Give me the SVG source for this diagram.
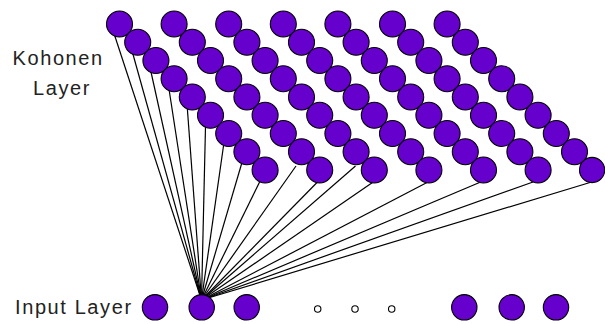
<svg xmlns="http://www.w3.org/2000/svg" width="605" height="324" viewBox="0 0 605 324">
<style>
.n{fill:#6600cc;stroke:#000;stroke-width:1.1}
.d{fill:#fff;stroke:#000;stroke-width:1.1}
.c line{stroke:#000;stroke-width:1.2}
.t{font-family:"Liberation Sans",Arial,sans-serif;font-size:20px;fill:#222;letter-spacing:1.6px}
</style>
<rect width="605" height="324" fill="#fff"/>
<g id="labels">
<text class="t" x="12.5" y="65">Kohonen</text>
<text class="t" x="33" y="94.5">Layer</text>
<text class="t" x="15" y="313.5">Input Layer</text>
</g>
<g id="connectors" class="c">
<line x1="114.5" y1="35" x2="201.5" y2="300"/>
<line x1="132.7" y1="53.25" x2="201.5" y2="300"/>
<line x1="150.9" y1="71.5" x2="201.5" y2="300"/>
<line x1="169.1" y1="89.75" x2="201.5" y2="300"/>
<line x1="187.3" y1="108" x2="201.5" y2="300"/>
<line x1="205.5" y1="126.25" x2="201.5" y2="300"/>
<line x1="223.7" y1="144.5" x2="201.5" y2="300"/>
<line x1="241.9" y1="162.75" x2="201.5" y2="300"/>
<line x1="260.1" y1="181" x2="201.5" y2="300"/>
<line x1="296" y1="166" x2="201.5" y2="300"/>
<line x1="317.5" y1="182" x2="201.5" y2="300"/>
<line x1="355.5" y1="166" x2="201.5" y2="300"/>
<line x1="372.5" y1="182.5" x2="201.5" y2="300"/>
<line x1="427" y1="182.5" x2="201.5" y2="300"/>
<line x1="479.5" y1="182.5" x2="201.5" y2="300"/>
<line x1="533" y1="182" x2="201.5" y2="300"/>
<line x1="590" y1="182.5" x2="201.5" y2="300"/>
</g>
<g id="kohonen">
<g id="k0">
<circle class="n" cx="119.5" cy="24" r="13"/><circle class="n" cx="137.7" cy="42.25" r="13"/><circle class="n" cx="155.9" cy="60.5" r="13"/><circle class="n" cx="174.1" cy="78.75" r="13"/><circle class="n" cx="192.3" cy="97" r="13"/><circle class="n" cx="210.5" cy="115.25" r="13"/><circle class="n" cx="228.7" cy="133.5" r="13"/><circle class="n" cx="246.9" cy="151.75" r="13"/><circle class="n" cx="265.1" cy="170" r="13"/>
</g>
<g id="k1">
<circle class="n" cx="174.1" cy="24" r="13"/><circle class="n" cx="192.3" cy="42.25" r="13"/><circle class="n" cx="210.5" cy="60.5" r="13"/><circle class="n" cx="228.7" cy="78.75" r="13"/><circle class="n" cx="246.9" cy="97" r="13"/><circle class="n" cx="265.1" cy="115.25" r="13"/><circle class="n" cx="283.3" cy="133.5" r="13"/><circle class="n" cx="301.5" cy="151.75" r="13"/><circle class="n" cx="319.7" cy="170" r="13"/>
</g>
<g id="k2">
<circle class="n" cx="228.7" cy="24" r="13"/><circle class="n" cx="246.9" cy="42.25" r="13"/><circle class="n" cx="265.1" cy="60.5" r="13"/><circle class="n" cx="283.3" cy="78.75" r="13"/><circle class="n" cx="301.5" cy="97" r="13"/><circle class="n" cx="319.7" cy="115.25" r="13"/><circle class="n" cx="337.9" cy="133.5" r="13"/><circle class="n" cx="356.1" cy="151.75" r="13"/><circle class="n" cx="374.3" cy="170" r="13"/>
</g>
<g id="k3">
<circle class="n" cx="283.3" cy="24" r="13"/><circle class="n" cx="301.5" cy="42.25" r="13"/><circle class="n" cx="319.7" cy="60.5" r="13"/><circle class="n" cx="337.9" cy="78.75" r="13"/><circle class="n" cx="356.1" cy="97" r="13"/><circle class="n" cx="374.3" cy="115.25" r="13"/><circle class="n" cx="392.5" cy="133.5" r="13"/><circle class="n" cx="410.7" cy="151.75" r="13"/><circle class="n" cx="428.9" cy="170" r="13"/>
</g>
<g id="k4">
<circle class="n" cx="337.9" cy="24" r="13"/><circle class="n" cx="356.1" cy="42.25" r="13"/><circle class="n" cx="374.3" cy="60.5" r="13"/><circle class="n" cx="392.5" cy="78.75" r="13"/><circle class="n" cx="410.7" cy="97" r="13"/><circle class="n" cx="428.9" cy="115.25" r="13"/><circle class="n" cx="447.1" cy="133.5" r="13"/><circle class="n" cx="465.3" cy="151.75" r="13"/><circle class="n" cx="483.5" cy="170" r="13"/>
</g>
<g id="k5">
<circle class="n" cx="392.5" cy="24" r="13"/><circle class="n" cx="410.7" cy="42.25" r="13"/><circle class="n" cx="428.9" cy="60.5" r="13"/><circle class="n" cx="447.1" cy="78.75" r="13"/><circle class="n" cx="465.3" cy="97" r="13"/><circle class="n" cx="483.5" cy="115.25" r="13"/><circle class="n" cx="501.7" cy="133.5" r="13"/><circle class="n" cx="519.9" cy="151.75" r="13"/><circle class="n" cx="538.1" cy="170" r="13"/>
</g>
<g id="k6">
<circle class="n" cx="447.1" cy="24" r="13"/><circle class="n" cx="465.3" cy="42.25" r="13"/><circle class="n" cx="483.5" cy="60.5" r="13"/><circle class="n" cx="501.7" cy="78.75" r="13"/><circle class="n" cx="519.9" cy="97" r="13"/><circle class="n" cx="538.1" cy="115.25" r="13"/><circle class="n" cx="556.3" cy="133.5" r="13"/><circle class="n" cx="574.5" cy="151.75" r="13"/><circle class="n" cx="592.1" cy="170" r="12.6"/>
</g>
</g>
<g id="input">
<g id="in1"><circle class="n" cx="155" cy="307.3" r="12.7"/></g>
<g id="in2"><circle class="n" cx="201.7" cy="307.3" r="12.7"/></g>
<g id="in3"><circle class="n" cx="246.7" cy="307.3" r="12.7"/></g>
<g id="dots"><circle class="d" cx="317.7" cy="309" r="3.2"/><circle class="d" cx="355" cy="309" r="3.2"/><circle class="d" cx="391.7" cy="309" r="3.2"/></g>
<g id="in4"><circle class="n" cx="464.3" cy="307.3" r="12.7"/></g>
<g id="in5"><circle class="n" cx="511.7" cy="307.3" r="12.7"/></g>
<g id="in6"><circle class="n" cx="556" cy="307.3" r="12.7"/></g>
</g>
</svg>
